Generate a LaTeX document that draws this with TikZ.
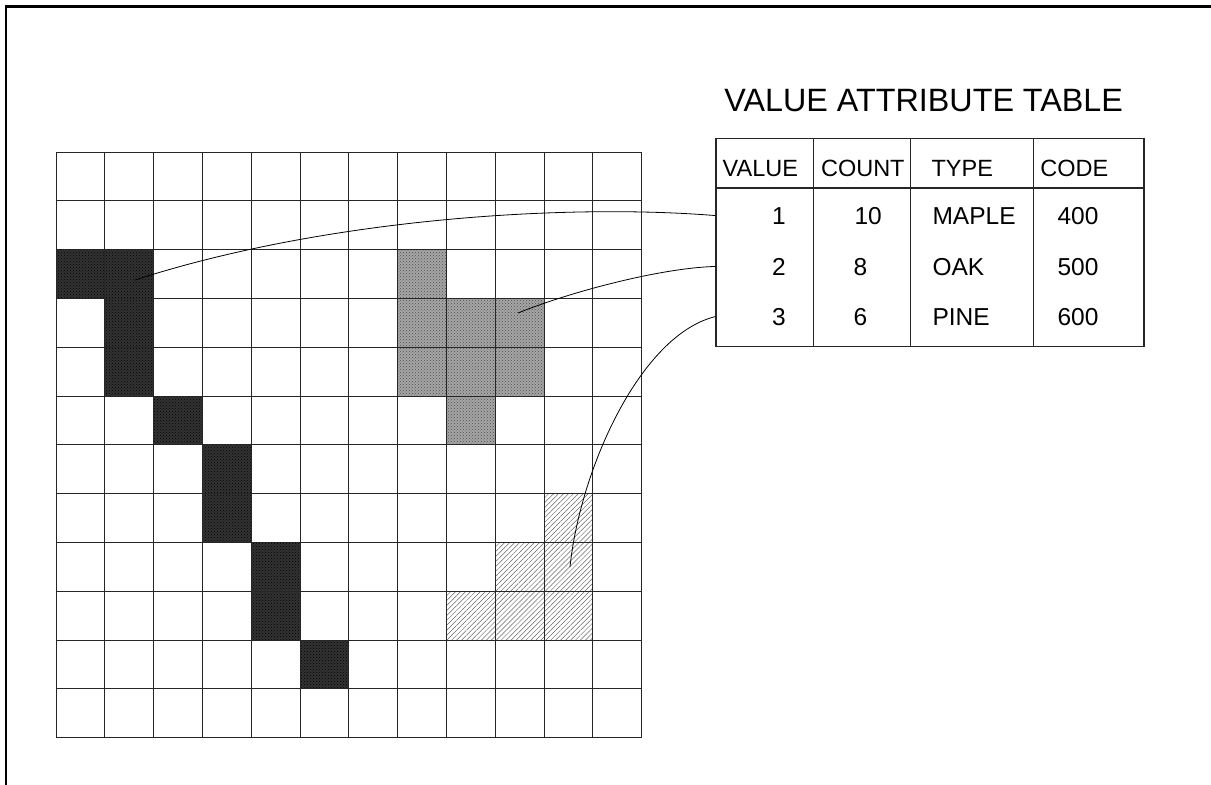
\documentclass[tikz,border=0pt]{standalone}
\usepackage{fontspec}
\setmainfont{Liberation Sans}
\usetikzlibrary{patterns, patterns.meta}

\tikzset{
  cellline/.style={draw=black!85, line width=0.9pt},
  darkcell/.style={fill=black!80, postaction={pattern=crosshatch dots, pattern color=black}},
  graycell/.style={fill=black!35, postaction={pattern=crosshatch dots, pattern color=black!70}},
  hatchcell/.style={pattern={Lines[angle=45,distance=3.5pt,line width=0.5pt]}, pattern color=black!60},
  link/.style={draw=black, line width=0.8pt},
  hdr/.style={anchor=base, font=\fontsize{23.5}{28}\selectfont},
  val/.style={anchor=base, font=\fontsize{24.5}{29}\selectfont},
}

\begin{document}
\begin{tikzpicture}[x=1pt, y=-1pt]
    \useasboundingbox (0,0) rectangle (1211,785);
    \def\cs{48.8}

    % 边框
    \draw[line width=2.5pt] (6,785) -- (6,6.5) -- (1211,6.5);

    % 栅格单元
    \foreach \r/\c in {2/0,2/1,3/1,4/1,5/2,6/3,7/3,8/4,9/4,10/5}
        \path[darkcell] ({56+\c*\cs},{152+\r*\cs}) rectangle +(\cs,\cs);
    \foreach \r/\c in {2/7,3/7,3/8,3/9,4/7,4/8,4/9,5/8}
        \path[graycell] ({56+\c*\cs},{152+\r*\cs}) rectangle +(\cs,\cs);
    \foreach \r/\c in {7/10,8/9,8/10,9/8,9/9,9/10}
        \path[hatchcell] ({56+\c*\cs},{152+\r*\cs}) rectangle +(\cs,\cs);

    % 网格线
    \foreach \i in {0,...,12} {
        \draw[cellline] ({56+\i*\cs},152) -- ({56+\i*\cs},737.6);
        \draw[cellline] (56,{152+\i*\cs}) -- (641.6,{152+\i*\cs});
    }

    % 标题
    \node[anchor=base, font=\fontsize{32.3}{38}\selectfont] (title) at (923.7,111.7) {VALUE ATTRIBUTE TABLE};

    % 属性表
    \node[draw=black!85, line width=1.2pt, minimum width=428pt, minimum height=208.4pt, inner sep=0pt] (vat) at (930,242.5) {};
    \draw[black!85, line width=1.2pt] (716,188) -- (1144,188);
    \foreach \x in {813.3,910.7,1033.3}
        \draw[black!85, line width=1.2pt] (\x,138.3) -- (\x,346.7);

    \node[hdr] (hvalue) at (760.3,176.7) {VALUE};
    \node[hdr] (hcount) at (862.8,176.7) {COUNT};
    \node[hdr] (htype)  at (962.3,176.7) {TYPE};
    \node[hdr] (hcode)  at (1074.3,176.7) {CODE};

    \node[val] (v1) at (779,224) {1};
    \node[val] (v2) at (779,275) {2};
    \node[val] (v3) at (779,325) {3};
    \node[val, anchor=base west] (n1) at (851,224) {10};
    \node[val, anchor=base west] (n2) at (850,275) {8};
    \node[val, anchor=base west] (n3) at (850,325) {6};
    \node[val, anchor=base west] (t1) at (929,224) {MAPLE};
    \node[val, anchor=base west] (t2) at (929,275) {OAK};
    \node[val, anchor=base west] (t3) at (929,325) {PINE};
    \node[val] (k1) at (1078,224) {400};
    \node[val] (k2) at (1078,275) {500};
    \node[val] (k3) at (1078,325) {600};

    % 连线
    \coordinate (p1) at (135,280);
    \coordinate (p2) at (518,313);
    \coordinate (p3) at (570,567);
    \draw[link] (p1) .. controls (320,220) and (560,203) .. (vat.west |- v1);
    \draw[link] (p2) .. controls (570,292) and (660,268) .. (vat.west |- v2);
    \draw[link] (p3) .. controls (580,470) and (640,335) .. (vat.west |- v3);
\end{tikzpicture}
\end{document}
